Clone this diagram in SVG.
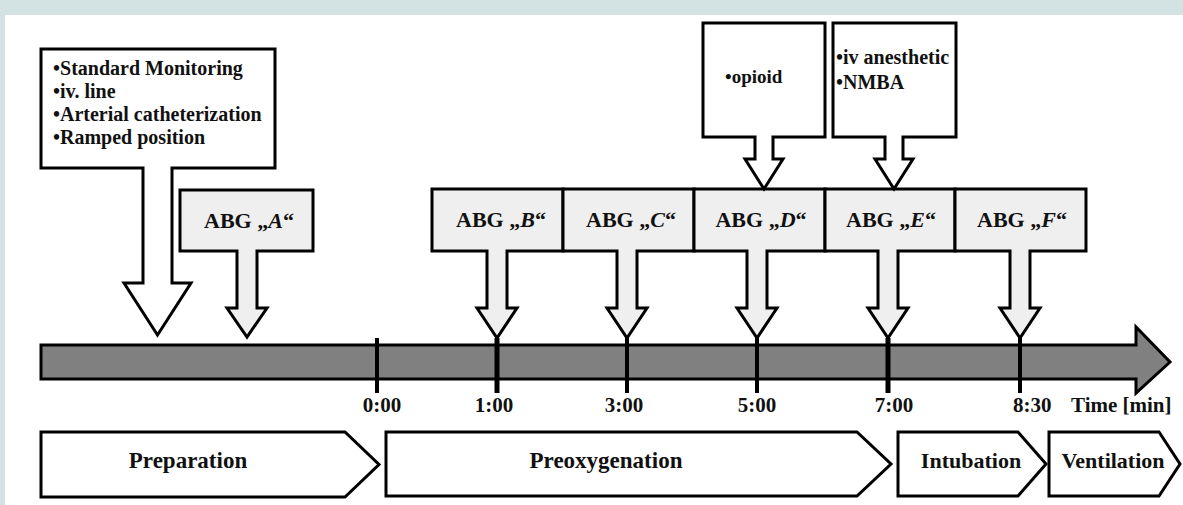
<svg xmlns="http://www.w3.org/2000/svg" width="1183" height="505" viewBox="0 0 1183 505">
<style>
.t{font-family:"Liberation Serif","Times New Roman",serif;font-weight:bold;fill:#111}
.ln{stroke:#000;stroke-width:3;stroke-linejoin:miter}
.abg{fill:#efefef}
.wh{fill:#fff}
.tick{stroke:#000;stroke-width:4}
.m{text-anchor:middle}
</style>
<rect x="0" y="0" width="1183" height="505" fill="#fff"/>
<rect x="0" y="0" width="1183" height="15" fill="#d3e2e2"/>
<rect x="0" y="0" width="5" height="505" fill="#d3e2e2"/>

<g id="timeline">
<path class="ln" d="M41,345 H1136 V327 L1170,362 L1136,393 V379 H41 Z" fill="#808080"/>
</g>

<g id="connectors">
<line class="tick" x1="377" y1="338" x2="377" y2="393"/>
<line class="tick" x1="497" y1="338" x2="497" y2="393" style="stroke-width:5"/>
<line class="tick" x1="627" y1="338" x2="627" y2="393"/>
<line class="tick" x1="757" y1="338" x2="757" y2="393"/>
<line class="tick" x1="888" y1="338" x2="888" y2="393" style="stroke-width:5"/>
<line class="tick" x1="1020" y1="338" x2="1020" y2="393"/>
</g>

<g id="node-prep-box">
<path class="ln wh" d="M41,49 H275 V168 H172 V283 H191 L157.5,335 L124,283 H143 V168 H41 Z"/>
<text class="t" font-size="20" x="53" y="75">•Standard Monitoring</text>
<text class="t" font-size="20" x="53" y="98">•iv. line</text>
<text class="t" font-size="20" x="53" y="121">•Arterial catheterization</text>
<text class="t" font-size="20" x="53" y="144">•Ramped position</text>
</g>

<g id="node-abg-a">
<path class="ln abg" d="M180,190 H313 V251 H257 V308 H267 L247,337 L227,308 H237 V251 H180 Z"/>
<text class="t m" font-size="22" x="249" y="228">ABG „<tspan font-style="italic">A</tspan>“</text>
</g>

<g id="node-abg-b">
<path class="ln abg" d="M432,189 H563 V251 H507 V308 H517 L497,338 L477,308 H487 V251 H432 Z"/>
<text class="t m" font-size="22" x="501" y="227">ABG „<tspan font-style="italic">B</tspan>“</text>
</g>
<g id="node-abg-c">
<path class="ln abg" d="M563,189 H694 V251 H637 V308 H647 L627,338 L607,308 H617 V251 H563 Z"/>
<text class="t m" font-size="22" x="631" y="227">ABG „<tspan font-style="italic">C</tspan>“</text>
</g>
<g id="node-abg-d">
<path class="ln abg" d="M694,189 H825 V251 H767 V308 H777 L757,338 L737,308 H747 V251 H694 Z"/>
<text class="t m" font-size="22" x="761" y="227">ABG „<tspan font-style="italic">D</tspan>“</text>
</g>
<g id="node-abg-e">
<path class="ln abg" d="M825,189 H955 V251 H898 V308 H908 L888,338 L868,308 H878 V251 H825 Z"/>
<text class="t m" font-size="22" x="891" y="227">ABG „<tspan font-style="italic">E</tspan>“</text>
</g>
<g id="node-abg-f">
<path class="ln abg" d="M955,189 H1086 V251 H1030 V308 H1040 L1020,338 L1000,308 H1010 V251 H955 Z"/>
<text class="t m" font-size="22" x="1022" y="227">ABG „<tspan font-style="italic">F</tspan>“</text>
</g>

<g id="node-opioid">
<path class="ln wh" d="M703,23 H825 V137 H773 V159 H783 L764,189 L745,159 H755 V137 H703 Z"/>
<text class="t" font-size="19" x="725" y="83">•opioid</text>
</g>
<g id="node-anesthetic">
<path class="ln wh" d="M833,23 H956 V137 H903 V159 H913 L894,189 L875,159 H885 V137 H833 Z"/>
<text class="t" font-size="20" x="836" y="64">•iv anesthetic</text>
<text class="t" font-size="20" x="836" y="89">•NMBA</text>
</g>

<g id="time-labels">
<text class="t m" font-size="21" x="382" y="412">0:00</text>
<text class="t m" font-size="21" x="494" y="412">1:00</text>
<text class="t m" font-size="21" x="624" y="412">3:00</text>
<text class="t m" font-size="21" x="757" y="412">5:00</text>
<text class="t m" font-size="21" x="894" y="412">7:00</text>
<text class="t" font-size="21" x="1013" y="412">8:30</text>
<text class="t" font-size="21" x="1071" y="412">Time [min]</text>
</g>

<g id="phase-preparation">
<path class="ln wh" d="M41,432 H345 L379,464.5 L345,497 H41 Z"/>
<text class="t m" font-size="23" x="188" y="468">Preparation</text>
</g>
<g id="phase-preoxygenation">
<path class="ln wh" d="M386,432 H857 L891,464 L857,496 H386 Z"/>
<text class="t m" font-size="23" x="606" y="468">Preoxygenation</text>
</g>
<g id="phase-intubation">
<path class="ln wh" d="M898,432 H1018 L1046,464 L1018,496 H898 Z"/>
<text class="t m" font-size="22" x="971" y="468">Intubation</text>
</g>
<g id="phase-ventilation">
<path class="ln wh" d="M1049,432 H1159 L1180,464 L1159,496 H1049 Z"/>
<text class="t m" font-size="22" x="1113" y="468">Ventilation</text>
</g>
</svg>
